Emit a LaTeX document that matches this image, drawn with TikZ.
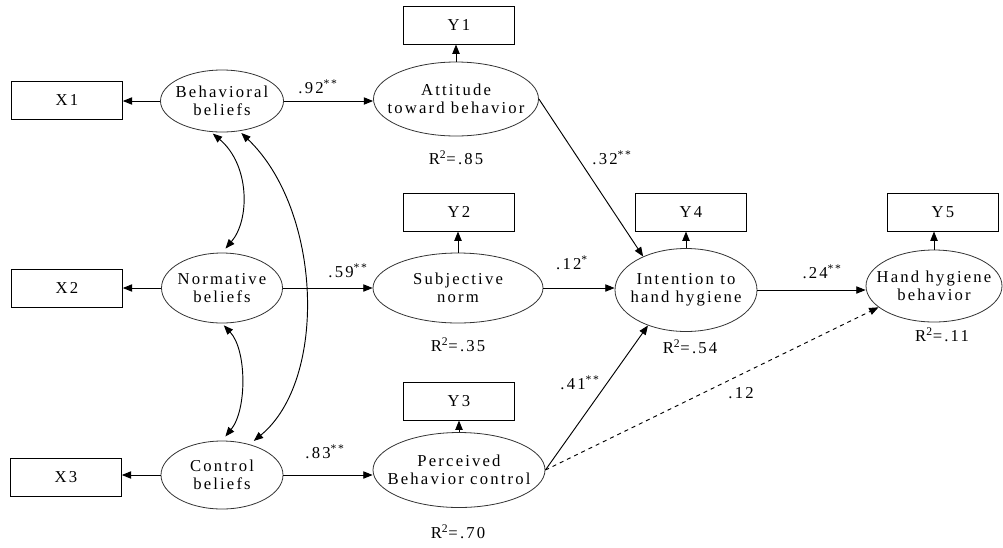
\documentclass[tikz,border=0pt]{standalone}
\usepackage{fontspec}
\setmainfont[LetterSpace=13]{Liberation Serif}
\usetikzlibrary{shapes.geometric,arrows.meta}
\begin{document}
\begin{tikzpicture}[x=0.75pt,y=-0.75pt,
  font=\fontsize{12.5}{13.5}\selectfont,
  lat/.style={ellipse, draw=black!80, line width=0.6pt, inner sep=0pt},
  txt/.style={align=center, inner sep=0pt},
  obs/.style={rectangle, draw, line width=0.75pt, minimum width=83pt, minimum height=28.5pt, inner sep=0pt},
  arr/.style={-{Triangle[length=7pt,width=5.5pt]}, line width=0.7pt},
  darr/.style={{Triangle[length=7pt,width=5.5pt]}-{Triangle[length=7pt,width=5.5pt]}, line width=0.7pt, shorten <=2pt, shorten >=4pt},
  coef/.style={inner sep=0pt}]
\useasboundingbox (0,0) rectangle (1003,547);

% observed boxes
\node[obs] (x1) at (67,100) {X1};
\node[obs] (x2) at (67,288) {X2};
\node[obs] (x3) at (66,477) {X3};
\node[obs] (y1) at (459,25) {Y1};
\node[obs] (y2) at (459,212) {Y2};
\node[obs] (y3) at (459,401) {Y3};
\node[obs] (y4) at (691,212) {Y4};
\node[obs] (y5) at (943,212) {Y5};

% latent ellipses
\node[lat, minimum width=92.25pt, minimum height=46.5pt, label={[txt]center:Behavioral\\beliefs}] (bb) at (222,101) {};
\node[lat, minimum width=90.75pt, minimum height=52.5pt, label={[txt]center:Normative\\beliefs}] (nb) at (222,288) {};
\node[lat, minimum width=91.5pt, minimum height=51pt, label={[txt]center:Control\\beliefs}] (cb) at (222,475) {};
\node[lat, minimum width=123.75pt, minimum height=55.5pt, label={[txt]center:Attitude\\toward behavior}] (att) at (456,99) {};
\node[lat, minimum width=127.5pt, minimum height=52.5pt, label={[txt]center:Subjective\\norm}] (sn) at (458,288) {};
\node[lat, minimum width=129pt, minimum height=56.25pt, label={[txt]center:Perceived\\Behavior control}] (pbc) at (459,470) {};
\node[lat, minimum width=106.5pt, minimum height=62.25pt, label={[txt]center:Intention to\\hand hygiene}] (int) at (686,290) {};
\node[lat, minimum width=102pt, minimum height=54pt, label={[txt]center:Hand hygiene\\behavior}] (hh) at (934,286) {};

% measurement arrows
\draw[arr] (bb.west) -- (bb.west -| x1.east);
\draw[arr] (nb.west) -- (nb.west -| x2.east);
\draw[arr] (cb.west) -- (cb.west -| x3.east);
\draw[arr] (att.north) -- (att.north |- y1.south);
\draw[arr] (sn.north) -- (sn.north |- y2.south);
\draw[arr] (pbc.north) -- (pbc.north |- y3.south);
\draw[arr] (int.north) -- (int.north |- y4.south);
\draw[arr] (hh.north) -- (hh.north |- y5.south);

% structural paths
\draw[arr] (bb.east) -- (bb.east -| att.west);
\draw[arr] (nb.east) -- (nb.east -| sn.west);
\draw[arr] (cb.east) -- (cb.east -| pbc.west);
\draw[arr] (sn.east) -- (sn.east -| int.west);
\draw[arr] (int.east) -- (int.east -| hh.west);
\draw[arr] (att.east) -- (int.142);
\draw[arr] (pbc.east) -- (int.223);
\draw[arr, dashed] (pbc.east) -- (hh.201);

% correlations
\draw[darr] (bb.250) .. controls (250,165) and (250,220) .. (nb.90);
\draw[darr] (nb.270) .. controls (247,350) and (247,410) .. (cb.90);
\draw[darr] (bb.300) .. controls (322,210) and (328,380) .. (cb.48);

% coefficients
\node[coef] (c1) at (318,87) {.92\textsuperscript{**}};
\node[coef] (c2) at (348,271) {.59\textsuperscript{**}};
\node[coef] (c3) at (325,452) {.83\textsuperscript{**}};
\node[coef] (c4) at (612,158) {.32\textsuperscript{**}};
\node[coef] (c5) at (572,263) {.12\textsuperscript{*}};
\node[coef] (c6) at (580,383) {.41\textsuperscript{**}};
\node[coef] (c7) at (822,272) {.24\textsuperscript{**}};
\node[coef] (c8) at (741,393) {.12};

% R squared
\node[coef] (r1) at (456,158) {R\textsuperscript{2}=.85};
\node[coef] (r2) at (458,345) {R\textsuperscript{2}=.35};
\node[coef] (r3) at (458,532) {R\textsuperscript{2}=.70};
\node[coef] (r4) at (690,347) {R\textsuperscript{2}=.54};
\node[coef] (r5) at (942,335) {R\textsuperscript{2}=.11};
\end{tikzpicture}
\end{document}
